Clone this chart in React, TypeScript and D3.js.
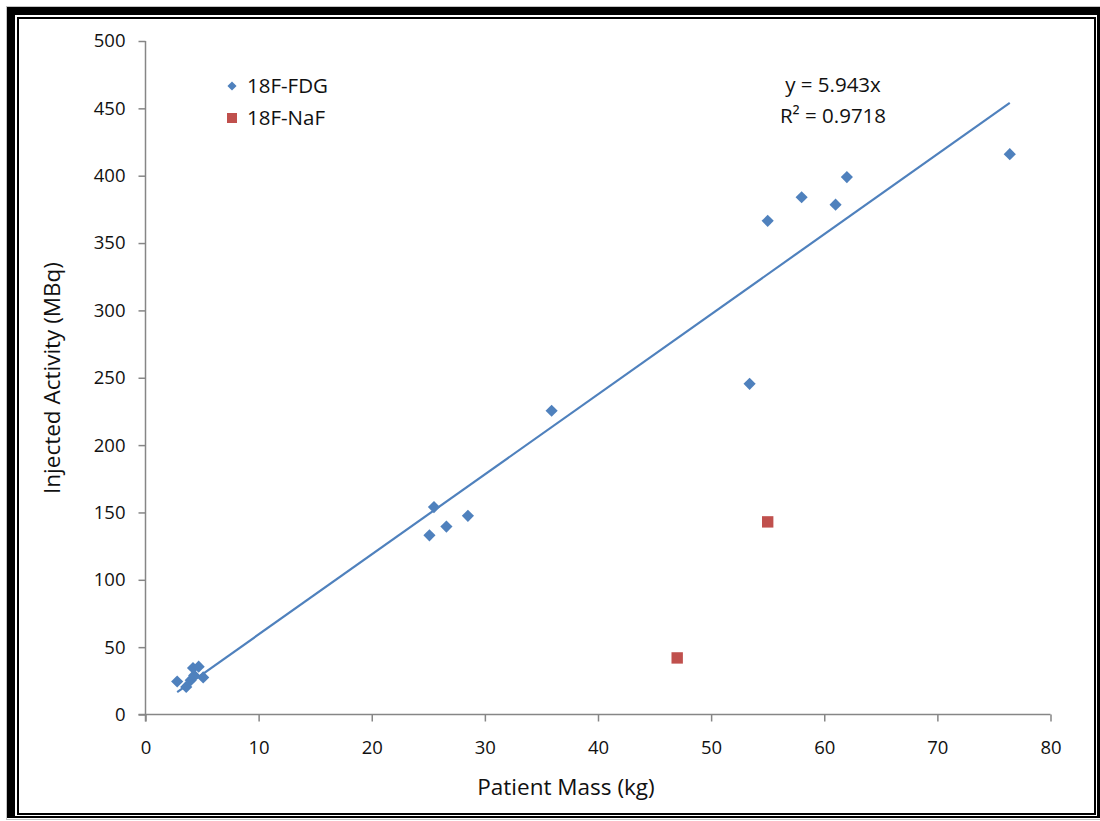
import React, { useRef, useEffect } from "react";
import { select, scaleLinear, axisBottom, axisLeft, min, max, symbol, symbolSquare } from "d3";

// 18F-FDG patients: mass (kg) vs injected activity (MBq)
const fdgMass = [2.8, 3.6, 4.0, 4.3, 4.2, 4.7, 5.1, 25.1, 25.5, 26.6, 28.5, 35.9, 53.4, 55.0, 58.0, 61.0, 62.0, 76.4];
const fdgActivity = [24.5, 20.5, 25.5, 29, 34.5, 35.5, 27.5, 133, 154, 139.5, 147.5, 225.5, 245.5, 366.5, 384, 378.5, 399, 416];

// 18F-NaF patients
const nafMass = [47.0, 55.0];
const nafActivity = [42, 143];

// trendline through origin
const slope = 5.943;
const rSquared = 0.9718;

const xTicks = [0, 10, 20, 30, 40, 50, 60, 70, 80];
const yTicks = [0, 50, 100, 150, 200, 250, 300, 350, 400, 450, 500];

const W = 1100;
const H = 821;
const FONT = "'Open Sans', sans-serif";
const BLUE = "#4F81BD";
const RED = "#C0504D";
const AXIS = "#868686";

function App() {
  const svgRef = useRef(null);

  useEffect(() => {
    const svg = select(svgRef.current);
    const plot = svg.select(".plot");

    const x = scaleLinear().domain([0, 80]).range([145.5, 1050.5]);
    const y = scaleLinear().domain([0, 500]).range([714.5, 41]);

    const xAxis = axisBottom(x).tickValues(xTicks).tickSize(7).tickPadding(19);
    svg.select(".x-axis")
      .attr("transform", `translate(0,${y(0)})`)
      .call(xAxis)
      .call((g) => {
        g.select(".domain").attr("stroke", AXIS).attr("stroke-width", 1.5)
          .attr("d", `M${x(0) - 7},0H${x(80)}`);
        g.selectAll(".tick line").attr("stroke", AXIS).attr("stroke-width", 1.5);
        g.selectAll("text").attr("font-family", FONT).attr("font-size", 18.5).attr("fill", "#111");
      });

    const yAxis = axisLeft(y).tickValues(yTicks).tickSize(7).tickPadding(13);
    svg.select(".y-axis")
      .attr("transform", `translate(${x(0)},0)`)
      .call(yAxis)
      .call((g) => {
        g.select(".domain").attr("stroke", AXIS).attr("stroke-width", 1.5)
          .attr("d", `M0,${y(500)}V${y(0) + 7}`);
        g.selectAll(".tick line").attr("stroke", AXIS).attr("stroke-width", 1.5);
        g.selectAll("text").attr("font-family", FONT).attr("font-size", 18.5).attr("fill", "#111");
      });

    // trendline
    const x0 = min(fdgMass);
    const x1 = max(fdgMass);
    plot.selectAll(".trend")
      .data([[x0, x1]])
      .join("line")
      .attr("class", "trend")
      .attr("x1", (d) => x(d[0]))
      .attr("y1", (d) => y(d[0] * slope))
      .attr("x2", (d) => x(d[1]))
      .attr("y2", (d) => y(d[1] * slope))
      .attr("stroke", BLUE)
      .attr("stroke-width", 2.2);

    // diamonds are squares turned by 45 degrees
    const diamond = symbol().type(symbolSquare).size(74);
    const square = symbol().type(symbolSquare).size(130);

    plot.selectAll(".fdg")
      .data(fdgMass.map((m, i) => [m, fdgActivity[i]]))
      .join("path")
      .attr("class", "fdg")
      .attr("d", diamond)
      .attr("transform", (d) => `translate(${x(d[0])},${y(d[1])}) rotate(45)`)
      .attr("fill", BLUE);

    plot.selectAll(".naf")
      .data(nafMass.map((m, i) => [m, nafActivity[i]]))
      .join("path")
      .attr("class", "naf")
      .attr("d", square)
      .attr("transform", (d) => `translate(${x(d[0])},${y(d[1])})`)
      .attr("fill", RED);

    // legend
    const legend = svg.select(".legend");
    const items = [
      { label: "18F-FDG", color: BLUE, shape: symbol().type(symbolSquare).size(42), turn: 45 },
      { label: "18F-NaF", color: RED, shape: symbol().type(symbolSquare).size(100), turn: 0 },
    ];
    const rows = legend.selectAll(".item").data(items).join("g")
      .attr("class", "item")
      .attr("transform", (d, i) => `translate(232,${86 + i * 32})`);
    rows.append("path").attr("d", (d) => d.shape()).attr("fill", (d) => d.color)
      .attr("transform", (d) => `rotate(${d.turn})`);
    rows.append("text").attr("x", 15).attr("dy", "0.35em")
      .attr("font-family", FONT).attr("font-size", 20.5).attr("fill", "#111")
      .text((d) => d.label);
  }, []);

  return (
    <React.Fragment>
      <style>{"body{margin:0}"}</style>
      <svg ref={svgRef} width={W} height={H} style={{ display: "block", background: "#fff" }}>
        <rect x={6.5} y={6.5} width={1100} height={813} fill="none" stroke="#c4c4c4" />
        <rect x={7} y={7} width={1093} height={811} fill="#000" />
        <rect x={15} y={15} width={1082} height={801} fill="#fff" />
        <rect x={18} y={18} width={1077} height={796} fill="none" stroke="#000" strokeWidth={2} />
        <g className="x-axis" />
        <g className="y-axis" />
        <g className="plot" />
        <g className="legend" />
        <text x={833} y={85} dy="0.35em" textAnchor="middle" fontFamily={FONT} fontSize={20.5} fill="#111">
          {`y = ${slope}x`}
        </text>
        <text x={833} y={116} dy="0.35em" textAnchor="middle" fontFamily={FONT} fontSize={20.5} fill="#111">
          {`R² = ${rSquared}`}
        </text>
        <text transform="translate(52,378) rotate(-90)" dy="0.35em" textAnchor="middle" fontFamily={FONT} fontSize={22.5} fill="#111">
          Injected Activity (MBq)
        </text>
        <text x={566} y={787} dy="0.35em" textAnchor="middle" fontFamily={FONT} fontSize={22.5} fill="#111">
          Patient Mass (kg)
        </text>
      </svg>
    </React.Fragment>
  );
}

export default App;
